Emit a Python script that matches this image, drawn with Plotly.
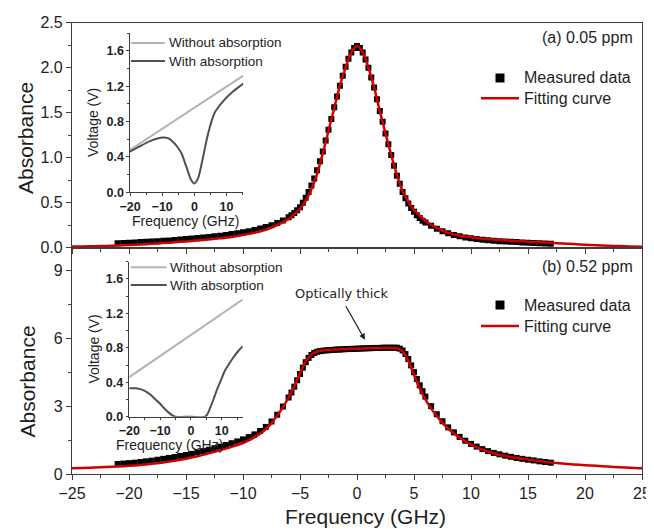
import plotly.graph_objects as go

# page body has an 8px margin: the figure is sized to fit inside the 654x529 window
OFF = 8
W, H = 654 - OFF, 529 - OFF

# ---------------- data ----------------
freq_meas = [-21, -20.5, -20, -19.5, -19, -18.5, -18, -17.5, -17, -16.5, -16, -15.5, -15, -14.5, -14,
             -13.5, -13, -12.5, -12, -11.5, -11, -10.5, -10, -9.5, -9, -8.5, -8, -7.5, -7, -6.5, -6,
             -5.75, -5.5, -5.25, -5, -4.75, -4.5, -4.25, -4, -3.75, -3.5, -3.25, -3, -2.75, -2.5, -2.25,
             -2, -1.75, -1.5, -1.25, -1, -0.75, -0.5, -0.25, 0, 0.25, 0.5, 0.75, 1, 1.25, 1.5, 1.75,
             2, 2.25, 2.5, 2.75, 3, 3.25, 3.5, 3.75, 4, 4.25, 4.5, 4.75, 5, 5.25, 5.5, 5.75,
             6, 6.5, 7, 7.5, 8, 8.5, 9, 9.5, 10, 10.5, 11, 11.5, 12, 12.5, 13, 13.5, 14, 14.5, 15,
             15.5, 16, 16.5, 17]

abs_a_meas = [0.05, 0.053, 0.056, 0.059, 0.062, 0.065, 0.068, 0.072, 0.076, 0.08, 0.085, 0.09, 0.096,
              0.102, 0.108, 0.114, 0.12, 0.127, 0.134, 0.142, 0.151, 0.161, 0.172, 0.184, 0.197, 0.212,
              0.23, 0.25, 0.274, 0.303, 0.338,
              0.36, 0.385, 0.415, 0.45, 0.50, 0.555, 0.62, 0.69, 0.77, 0.86, 0.96, 1.07, 1.19, 1.31,
              1.43, 1.56, 1.68, 1.8, 1.91, 2.01, 2.1, 2.17, 2.22, 2.24, 2.22, 2.17, 2.09, 2.0, 1.89,
              1.78, 1.65, 1.52, 1.4, 1.27, 1.15, 1.03, 0.91, 0.8, 0.71, 0.62, 0.55, 0.49, 0.44, 0.4,
              0.36, 0.33, 0.3,
              0.28, 0.245, 0.21, 0.183, 0.16, 0.142, 0.127, 0.114, 0.104, 0.096, 0.089, 0.083, 0.078,
              0.073, 0.069, 0.065, 0.062, 0.058, 0.055, 0.052, 0.049, 0.046, 0.043]

freq_fit_a = [-25, -24, -23, -22, -21, -20, -19, -18, -17, -16, -15, -14, -13, -12, -11, -10, -9, -8,
              -7, -6, -5, -4.5, -4, -3.5, -3, -2.5, -2, -1.5, -1, -0.5, 0, 0.5, 1, 1.5, 2, 2.5, 3,
              3.5, 4, 4.5, 5, 6, 7, 8, 9, 10, 11, 12, 13, 14, 15, 16, 17, 18, 19, 20, 21, 22, 23, 24, 25]
abs_a_fit = [0.012, 0.014, 0.017, 0.02, 0.024, 0.03, 0.036, 0.043, 0.051, 0.06, 0.07, 0.08, 0.092,
             0.105, 0.12, 0.14, 0.165, 0.2, 0.25, 0.32, 0.43, 0.52, 0.65, 0.82, 1.05, 1.3, 1.55, 1.8,
             2.0, 2.17, 2.24, 2.17, 2.0, 1.78, 1.52, 1.27, 1.03, 0.81, 0.63, 0.51, 0.42, 0.3, 0.22,
             0.165, 0.135, 0.115, 0.1, 0.09, 0.082, 0.075, 0.067, 0.06, 0.054, 0.047, 0.04, 0.033,
             0.027, 0.022, 0.018, 0.014, 0.011]

abs_b_meas = [0.44, 0.46, 0.48, 0.5, 0.53, 0.56, 0.59, 0.63, 0.67, 0.71, 0.75, 0.8, 0.84, 0.89, 0.95,
              1.01, 1.07, 1.14, 1.21, 1.28, 1.36, 1.44, 1.53, 1.63, 1.75, 1.9, 2.08, 2.32, 2.62, 2.98,
              3.38,
              3.6, 3.86, 4.14, 4.42, 4.7, 4.94, 5.13, 5.26, 5.35, 5.4, 5.43, 5.45, 5.46, 5.47, 5.48,
              5.49, 5.5, 5.5, 5.51, 5.52, 5.52, 5.53, 5.53, 5.54, 5.54, 5.55, 5.55, 5.56, 5.56, 5.57,
              5.57, 5.57, 5.58, 5.58, 5.58, 5.58, 5.58, 5.58, 5.54, 5.46, 5.3, 5.08, 4.8, 4.5, 4.2,
              3.92, 3.66,
              3.42, 3.0, 2.64, 2.33, 2.06, 1.84, 1.64, 1.47, 1.33, 1.21, 1.1, 1.01, 0.93, 0.87, 0.81,
              0.76, 0.71, 0.67, 0.63, 0.6, 0.56, 0.53, 0.5]

freq_fit_b = [-25, -24, -23, -22, -21, -20, -19, -18, -17, -16, -15, -14, -13, -12, -11, -10, -9, -8,
              -7.5, -7, -6.5, -6, -5.5, -5, -4.5, -4, -3.5, -3, -2, -1, 0, 1, 2, 3, 3.5, 4, 4.5, 5,
              5.5, 6, 6.5, 7, 7.5, 8, 9, 10, 11, 12, 13, 14, 15, 16, 17, 18, 19, 20, 21, 22, 23, 24, 25]
abs_b_fit = [0.25, 0.27, 0.29, 0.31, 0.33, 0.36, 0.4, 0.45, 0.51, 0.58, 0.67, 0.78, 0.91, 1.05, 1.2,
             1.37, 1.62, 1.98, 2.25, 2.58, 2.95, 3.38, 3.88, 4.45, 4.97, 5.27, 5.41, 5.46, 5.5, 5.52,
             5.54, 5.56, 5.57, 5.58, 5.56, 5.42, 5.0, 4.38, 3.78, 3.3, 2.9, 2.56, 2.26, 2.0, 1.6, 1.3,
             1.08, 0.92, 0.8, 0.71, 0.64, 0.57, 0.51, 0.46, 0.42, 0.39, 0.36, 0.33, 0.3, 0.28, 0.25]

# insets: voltage traces
ins_a_freq_wo = [-20, -10, 0, 10, 15.2]
ins_a_volt_wo = [0.48, 0.72, 0.96, 1.2, 1.32]
ins_a_freq_w = [-20, -17, -13.8, -11.5, -9.7, -8, -6.6, -5.2, -4, -2.5, -1, 0, 1.15, 2.7, 4.3, 6.3,
                8.9, 12, 15.2]
ins_a_volt_w = [0.46, 0.52, 0.58, 0.61, 0.62, 0.61, 0.57, 0.51, 0.44, 0.29, 0.14, 0.1, 0.16, 0.4,
                0.67, 0.9, 1.03, 1.14, 1.23]

ins_b_freq_wo = [-20, -10, 0, 10, 16.8]
ins_b_volt_wo = [0.46, 0.705, 0.95, 1.195, 1.36]
ins_b_freq_w = [-20, -18, -16.5, -15, -13.3, -11.5, -10, -8.5, -7.3, -6, -5, 0, 4.6, 5.5, 6.2, 7.3,
                8.4, 9.8, 11.1, 12.5, 13.8, 15.3, 16.8]
ins_b_volt_w = [0.33, 0.33, 0.32, 0.3, 0.26, 0.2, 0.15, 0.09, 0.05, 0.015, 0, 0, 0, 0.04, 0.1, 0.2,
                0.31, 0.43, 0.54, 0.62, 0.69, 0.76, 0.82]

main_xticks = [-25, -20, -15, -10, -5, 0, 5, 10, 15, 20, 25]
top_yticks = [0.0, 0.5, 1.0, 1.5, 2.0, 2.5]
bot_yticks = [0, 3, 6, 9]
inset_xticks = [-20, -10, 0, 10]
inset_yticks = [0.0, 0.4, 0.8, 1.2, 1.6]

# ---------------- styling ----------------
FONT = "Liberation Sans, Arial, sans-serif"
TXT = "#1e1e1e"
AX = "#3c3c3c"
RED = "#d10000"
LIGHT = "#b3b3b3"
DARK = "#505050"


def px(x):
    return (x - OFF) / W


def py(y):
    return 1 - (y - OFF) / H


fig = go.Figure()

fig.add_trace(go.Scatter(x=freq_meas, y=abs_a_meas, mode="markers", xaxis="x", yaxis="y",
                         marker=dict(symbol="square", size=6, color="black", line=dict(width=0)),
                         showlegend=False))
fig.add_trace(go.Scatter(x=freq_fit_a, y=abs_a_fit, mode="lines", xaxis="x", yaxis="y",
                         line=dict(color=RED, width=2.5, shape="spline", smoothing=0.8),
                         showlegend=False))
fig.add_trace(go.Scatter(x=freq_meas, y=abs_b_meas, mode="markers", xaxis="x2", yaxis="y2",
                         marker=dict(symbol="square", size=6, color="black", line=dict(width=0)),
                         showlegend=False))
fig.add_trace(go.Scatter(x=freq_fit_b, y=abs_b_fit, mode="lines", xaxis="x2", yaxis="y2",
                         line=dict(color=RED, width=2.5, shape="spline", smoothing=0.8),
                         showlegend=False))

fig.add_trace(go.Scatter(x=ins_a_freq_wo, y=ins_a_volt_wo, mode="lines", xaxis="x3", yaxis="y3",
                         line=dict(color=LIGHT, width=2), showlegend=False))
fig.add_trace(go.Scatter(x=ins_a_freq_w, y=ins_a_volt_w, mode="lines", xaxis="x3", yaxis="y3",
                         line=dict(color=DARK, width=2, shape="spline", smoothing=0.8),
                         showlegend=False))
fig.add_trace(go.Scatter(x=ins_b_freq_wo, y=ins_b_volt_wo, mode="lines", xaxis="x4", yaxis="y4",
                         line=dict(color=LIGHT, width=2), showlegend=False))
fig.add_trace(go.Scatter(x=ins_b_freq_w, y=ins_b_volt_w, mode="lines", xaxis="x4", yaxis="y4",
                         line=dict(color=DARK, width=2, shape="spline", smoothing=0.8),
                         showlegend=False, cliponaxis=False))


def main_axis(**kw):
    d = dict(showline=True, linecolor=AX, linewidth=1.3, mirror=True, showgrid=False,
             zeroline=False, automargin=False, ticks="outside", ticklen=5, tickwidth=1.2,
             tickcolor=AX, tickfont=dict(family=FONT, size=16, color=TXT))
    d.update(kw)
    return d


def inset_axis(**kw):
    d = dict(showline=True, linecolor=AX, linewidth=1.2, mirror=False, showgrid=False,
             zeroline=False, automargin=False, ticks="outside", ticklen=2.5, tickwidth=1.1,
             tickcolor=AX, tickfont=dict(family=FONT, size=12.5, color=TXT, weight="bold"))
    d.update(kw)
    return d


xdom = [px(72), px(642)]
fig.update_layout(
    template="none",
    width=W, height=H, margin=dict(l=0, r=0, t=0, b=0, pad=0), autosize=False,
    paper_bgcolor="white", plot_bgcolor="rgba(0,0,0,0)",
    xaxis=main_axis(domain=xdom, anchor="y", range=[-25, 25], tickvals=main_xticks,
                    showticklabels=False,
                    minor=dict(dtick=2.5, tick0=0, ticks="outside", ticklen=3, tickcolor=AX,
                               showgrid=False)),
    yaxis=main_axis(domain=[py(247.7), py(22.7)], anchor="x", range=[0, 2.5],
                    tickvals=top_yticks, tickformat=".1f",
                    minor=dict(dtick=0.25, tick0=0, ticks="outside", ticklen=3, tickcolor=AX,
                               showgrid=False)),
    xaxis2=main_axis(domain=xdom, anchor="y2", range=[-25, 25], tickvals=main_xticks,
                     ticklabeloverflow="allow",
                     minor=dict(dtick=2.5, tick0=0, ticks="outside", ticklen=3, tickcolor=AX,
                                showgrid=False)),
    yaxis2=main_axis(domain=[py(474), py(247.7)], anchor="x2", range=[0, 10],
                     tickvals=bot_yticks,
                     minor=dict(dtick=1.5, tick0=0, ticks="outside", ticklen=3, tickcolor=AX,
                                showgrid=False)),
    xaxis3=inset_axis(domain=[px(130), px(243.3)], anchor="y3", range=[-20, 15.2],
                      tickvals=inset_xticks,
                      minor=dict(dtick=5, tick0=0, ticks="outside", ticklen=2, tickcolor=AX,
                                 showgrid=False)),
    yaxis3=inset_axis(domain=[py(192.3), py(33.3)], anchor="x3", range=[0, 1.8],
                      tickvals=inset_yticks, tickformat=".1f",
                      minor=dict(dtick=0.2, tick0=0, ticks="outside", ticklen=2, tickcolor=AX,
                                 showgrid=False)),
    xaxis4=inset_axis(domain=[px(129.3), px(242.7)], anchor="y4", range=[-20, 16.8],
                      tickvals=inset_xticks,
                      minor=dict(dtick=5, tick0=0, ticks="outside", ticklen=2, tickcolor=AX,
                                 showgrid=False)),
    yaxis4=inset_axis(domain=[py(416.7), py(261.7)], anchor="x4", range=[0, 1.8],
                      tickvals=inset_yticks, tickformat=".1f",
                      minor=dict(dtick=0.2, tick0=0, ticks="outside", ticklen=2, tickcolor=AX,
                                 showgrid=False)),
)

ann = []


def text(s, x, y, size, xanchor="center", angle=0, family=FONT, weight="normal"):
    ann.append(dict(text=s, x=px(x), y=py(y), xref="paper", yref="paper", showarrow=False,
                    xanchor=xanchor, yanchor="middle", textangle=angle,
                    font=dict(family=family, size=size, color=TXT, weight=weight)))


# axis titles
text("Absorbance", 25, 138, 21, angle=-90)
text("Absorbance", 26.5, 382, 21, angle=-90)
text("Frequency (GHz)", 365.5, 516, 21)
text("Voltage (V)", 93, 123, 14, angle=-90)
text("Voltage (V)", 93.5, 349, 14, angle=-90)
text("Frequency (GHz)", 185.3, 221.5, 14)
text("Frequency (GHz)", 169.5, 445, 14)

# panel labels
text("(a) 0.05 ppm", 635, 37.7, 16, xanchor="right")
text("(b) 0.52 ppm", 635, 266.7, 16, xanchor="right")

# main legends
text("Measured data", 522, 78, 16, xanchor="left")
text("Fitting curve", 522, 98.3, 16, xanchor="left")
text("Measured data", 522, 305, 16, xanchor="left")
text("Fitting curve", 522, 326, 16, xanchor="left")

# inset legends
text("Without absorption", 167, 43, 13.5, xanchor="left")
text("With absorption", 167, 61, 13.5, xanchor="left")
text("Without absorption", 168, 267.3, 13.5, xanchor="left")
text("With absorption", 168, 285, 13.5, xanchor="left")

# optically thick annotation
text("Optically thick", 341.5, 293, 13, family="DejaVu Sans, Verdana, sans-serif")
ann.append(dict(x=0.7, y=5.93, xref="x2", yref="y2", text="", showarrow=True,
                ax=-20, ay=-35, arrowhead=2, arrowsize=1, arrowwidth=1.2, arrowcolor=TXT,
                standoff=0))

shapes = []


def hline(x0, x1, y, color, width):
    shapes.append(dict(type="line", xref="paper", yref="paper", x0=px(x0), x1=px(x1),
                       y0=py(y), y1=py(y), line=dict(color=color, width=width)))


def square(cx, cy, s):
    shapes.append(dict(type="rect", xref="paper", yref="paper", x0=px(cx - s / 2), x1=px(cx + s / 2),
                       y0=py(cy + s / 2), y1=py(cy - s / 2), fillcolor="black",
                       line=dict(width=0)))


square(500, 78, 9)
hline(481, 519, 98.3, RED, 2.5)
square(500, 305, 9)
hline(481, 519, 326, RED, 2.5)
hline(131, 165, 43, LIGHT, 2)
hline(131, 165, 61, DARK, 2)
hline(130.7, 166.7, 267.3, LIGHT, 2)
hline(130.7, 166.7, 285, DARK, 2)

fig.update_layout(annotations=ann, shapes=shapes)

fig.write_html("out.html")
